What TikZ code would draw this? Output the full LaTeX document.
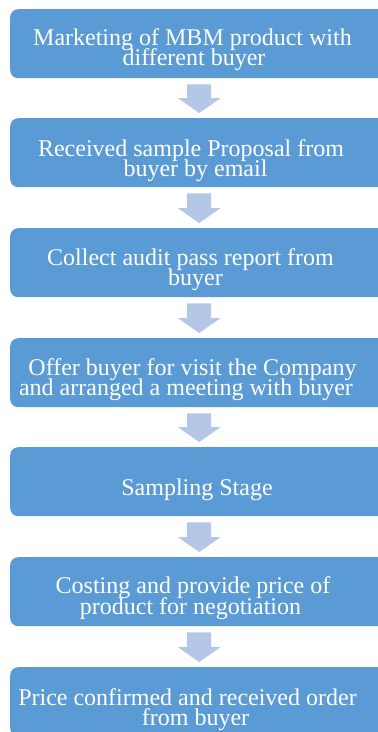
\documentclass[tikz,border=0pt]{standalone}
\usepackage{fontspec}
\setmainfont{Liberation Serif}
\usetikzlibrary{calc}
\definecolor{boxblue}{HTML}{5B9BD5}
\definecolor{arrowblue}{HTML}{B4C7E7}
\begin{document}
\begin{tikzpicture}[x=1pt,y=-1pt,
  stepbox/.style={fill=boxblue, rounded corners=8pt, minimum width=378pt, minimum height=69pt, inner sep=0pt, anchor=north west, draw=none},
  steptext/.style={text=white, font=\fontsize{24}{20}\selectfont, anchor=base, inner sep=0pt},
  flow/.style={fill=arrowblue, draw=none}]
\useasboundingbox (0,0) rectangle (378,732);
\clip (0,0) rectangle (378,732);
% boxes
\node[stepbox] (b1) at (10,9) {};
\node[stepbox] (b2) at (10,118) {};
\node[stepbox] (b3) at (10,228) {};
\node[stepbox] (b4) at (10,338) {};
\node[stepbox] (b5) at (10,447) {};
\node[stepbox] (b6) at (10,557) {};
\node[stepbox] (b7) at (10,667) {};
% texts
\node[steptext] (t1a) at (192.5,45) {Marketing of MBM product with};
\node[steptext] (t1b) at (194,65) {different buyer};
\node[steptext] (t2a) at (191,156) {Received sample Proposal from};
\node[steptext] (t2b) at (195.5,176) {buyer by email};
\node[steptext] (t3a) at (190.5,265) {Collect audit pass report from};
\node[steptext] (t3b) at (195.5,285) {buyer};
\node[steptext] (t4a) at (192.5,375) {Offer buyer for visit the Company};
\node[steptext] (t4b) at (186,395) {and arranged a meeting with buyer};
\node[steptext] (t5) at (197,495) {Sampling Stage};
\node[steptext] (t6a) at (193,593) {Costing and provide price of};
\node[steptext] (t6b) at (190.5,614) {product for negotiation};
\node[steptext] (t7a) at (187.5,705) {Price confirmed and received order};
\node[steptext] (t7b) at (195.5,725) {from buyer};
% arrows
\foreach \a/\b in {b1/b2,b2/b3,b3/b4,b4/b5,b5/b6,b6/b7}{
  \fill[flow] ($(\a.south)+(-12,6)$) -- ($(\a.south)+(12,6)$)
    -- ($(\b.north)+(12,-20)$) -- ($(\b.north)+(21.5,-20)$)
    -- ($(\b.north)+(0,-5)$) -- ($(\b.north)+(-21.5,-20)$)
    -- ($(\b.north)+(-12,-20)$) -- cycle;
}
\end{tikzpicture}
\end{document}
